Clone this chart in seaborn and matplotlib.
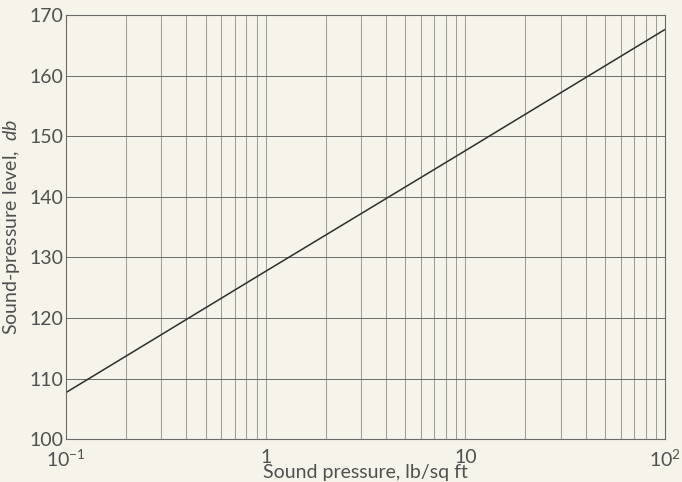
import matplotlib
matplotlib.use("Agg")
import matplotlib.pyplot as plt
import matplotlib.ticker as mticker
import seaborn as sns
import pandas as pd

# Sound pressure (lb/sq ft) and corresponding sound-pressure level (db)
pressure = [0.1, 1.0, 10.0, 100.0]
level = [107.7, 127.7, 147.6, 167.6]

x_ticks = [0.1, 1, 10, 100]
x_tick_labels = [r"$10^{-1}$", "1", "10", r"$10^{2}$"]
y_ticks = [100, 110, 120, 130, 140, 150, 160, 170]

sns.set_theme(style="white")
plt.rcParams["font.family"] = ["Lato", "DejaVu Sans"]
plt.rcParams["mathtext.fontset"] = "custom"
plt.rcParams["mathtext.rm"] = "Lato"
plt.rcParams["mathtext.it"] = "Lato:italic"

paper = "#f6f3ea"
ink = "#505050"

fig = plt.figure(figsize=(6.82, 4.82), dpi=100, facecolor=paper)
ax = fig.add_axes([0.097, 0.089, 0.878, 0.880])
ax.set_facecolor(paper)

df = pd.DataFrame({"pressure": pressure, "level": level})
sns.lineplot(data=df, x="pressure", y="level", ax=ax, color="#2e2e2e", linewidth=1.1)

ax.set_xscale("log")
ax.set_xlim(0.1, 100)
ax.set_ylim(100, 170)

ax.set_xticks(x_ticks)
ax.set_xticklabels(x_tick_labels)
ax.xaxis.set_minor_locator(mticker.LogLocator(base=10, subs=range(2, 10)))
ax.xaxis.set_minor_formatter(mticker.NullFormatter())
ax.set_yticks(y_ticks)

ax.grid(True, which="both", axis="x", color="#8a8a8a", linewidth=0.6)
ax.grid(True, which="major", axis="y", color="#6a6a6a", linewidth=0.7)

for s in ax.spines.values():
    s.set_color("#6a6a6a")
    s.set_linewidth(0.8)

ax.tick_params(axis="both", which="both", length=0, colors=ink, labelsize=14)
ax.tick_params(axis="x", pad=7)
ax.tick_params(axis="y", pad=2)

ax.set_xlabel("Sound pressure, lb/sq ft", fontsize=14, color=ink, labelpad=-4)
ax.set_ylabel("Sound-pressure level,  $db$", fontsize=14, color=ink, labelpad=5)

fig.savefig("out.png", dpi=100, facecolor=paper)
